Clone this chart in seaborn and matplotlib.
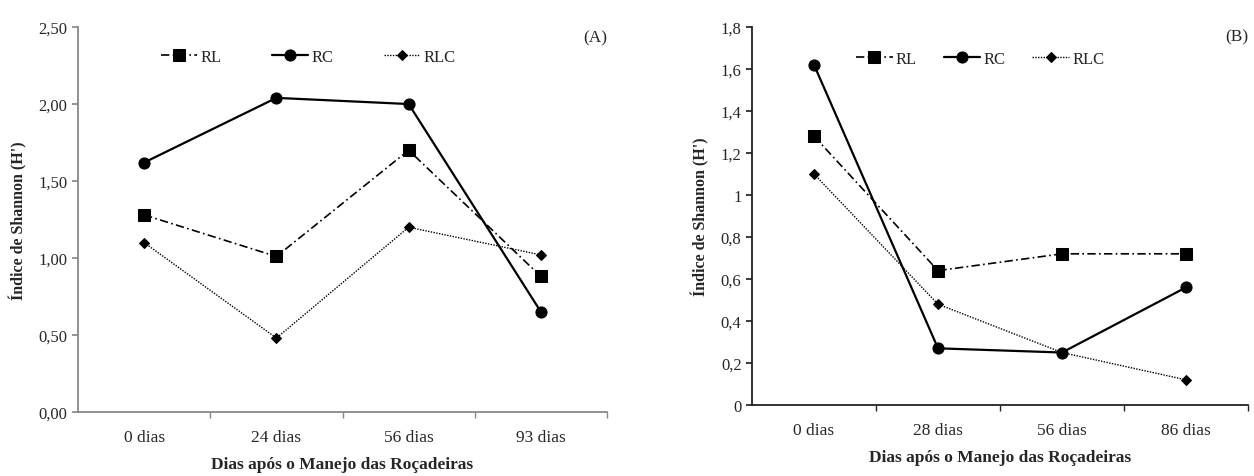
import matplotlib
matplotlib.use("Agg")
import matplotlib.pyplot as plt
import seaborn as sns
import numpy as np
from matplotlib.ticker import FixedLocator, FuncFormatter

sns.set_theme(style="white")
plt.rcParams['font.family'] = ['Liberation Serif', 'DejaVu Serif']

# Panel A data
cats_a = ["0 dias", "24 dias", "56 dias", "93 dias"]
rl_a = [1.28, 1.01, 1.70, 0.88]
rc_a = [1.62, 2.04, 2.00, 0.65]
rlc_a = [1.10, 0.48, 1.20, 1.02]

# Panel B data
cats_b = ["0 dias", "28 dias", "56 dias", "86 dias"]
rl_b = [1.28, 0.64, 0.72, 0.72]
rc_b = [1.62, 0.27, 0.25, 0.56]
rlc_b = [1.10, 0.48, 0.25, 0.12]

series_names = ["RL", "RC", "RLC"]
yticks_a = [0.0, 0.5, 1.0, 1.5, 2.0, 2.5]
yticks_b = [0.0, 0.2, 0.4, 0.6, 0.8, 1.0, 1.2, 1.4, 1.6, 1.8]

fig = plt.figure(figsize=(12.54, 4.77), dpi=100)
axA = fig.add_axes([0.0622, 0.1342, 0.4219, 0.807])
axB = fig.add_axes([0.5997, 0.1488, 0.3955, 0.7925])

styles = {
    "RL": dict(linestyle=(0, (5, 2, 1, 2)), marker="s", markersize=8, linewidth=1.2),
    "RC": dict(linestyle="-", marker="o", markersize=8, linewidth=1.6),
    "RLC": dict(linestyle=(0, (1, 1)), marker="D", markersize=5, linewidth=1.0),
}

def draw(ax, cats, data, yticks, fmt, spine_color, label, legend_anchor, colsp):
    for name, vals in zip(series_names, data):
        st = styles[name]
        sns.lineplot(x=cats, y=vals, ax=ax, color="black", label=name,
                     linestyle=st["linestyle"], marker=st["marker"],
                     markersize=st["markersize"], linewidth=st["linewidth"],
                     markeredgecolor="black", sort=False)
    ax.set_xlim(-0.5, len(cats) - 0.5)
    ax.set_ylim(yticks[0], yticks[-1])
    ax.set_yticks(yticks)
    ax.yaxis.set_major_formatter(FuncFormatter(fmt))
    ax.xaxis.set_minor_locator(FixedLocator(np.arange(0.5, len(cats), 1.0)))
    ax.tick_params(axis="x", which="major", length=0, labelsize=12.5, pad=12)
    ax.tick_params(axis="x", which="minor", length=4, direction="out", color=spine_color, bottom=True)
    ax.tick_params(axis="y", which="major", length=4, direction="out", color=spine_color, left=True, labelsize=12)
    for s in ["top", "right"]:
        ax.spines[s].set_visible(False)
    for s in ["left", "bottom"]:
        ax.spines[s].set_color(spine_color)
        ax.spines[s].set_linewidth(1.3)
    ax.set_xlabel("Dias após o Manejo das Roçadeiras", fontsize=12.5, fontweight="bold", labelpad=8)
    ax.set_ylabel("Índice de Shannon (H')", fontsize=11.5, fontweight="bold", labelpad=8)
    ax.text(1.0, 0.995, label, transform=ax.transAxes, ha="right", va="top", fontsize=12.5)
    leg = ax.legend(loc="center", bbox_to_anchor=legend_anchor, ncol=3, frameon=False,
                    fontsize=12, handlelength=2.2, columnspacing=colsp, handletextpad=0.2)
    return leg

def fmt_a(v, pos):
    return f"{v:.2f}".replace(".", ",")

def fmt_b(v, pos):
    if abs(v - round(v)) < 1e-9:
        return f"{int(round(v))}"
    return f"{v:.1f}".replace(".", ",")

draw(axA, cats_a, [rl_a, rc_a, rlc_a], yticks_a, fmt_a, "#888888", "(A)", (0.435, 0.922), 3.0)
draw(axB, cats_b, [rl_b, rc_b, rlc_b], yticks_b, fmt_b, "#222222", "(B)", (0.46, 0.915), 1.6)

fig.savefig("out.png", dpi=100, facecolor="white")
